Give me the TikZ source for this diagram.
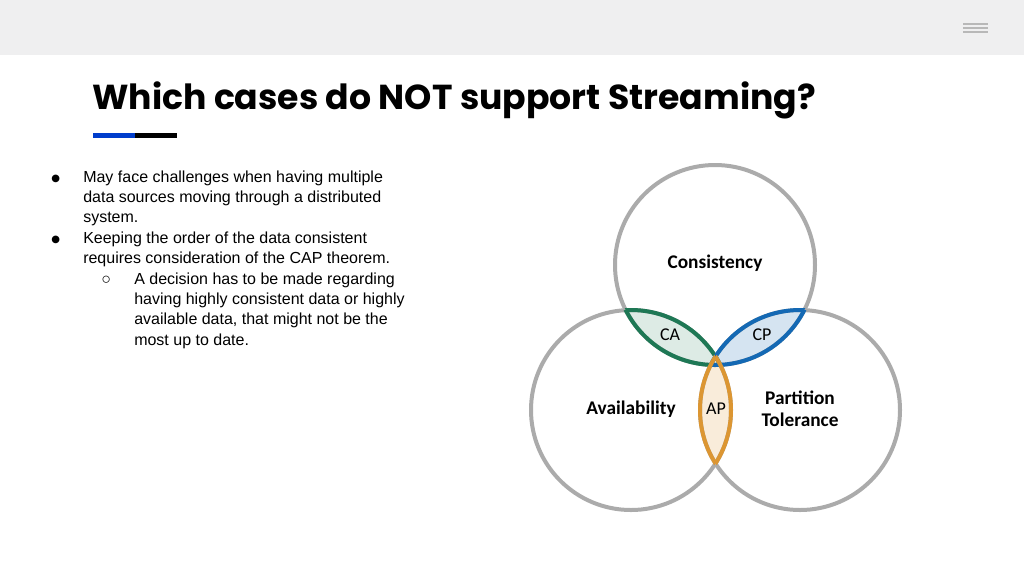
\documentclass[tikz,border=0pt]{standalone}
\usepackage{fontspec}
\setmainfont{Liberation Sans}
\newfontfamily\titlefont{Poppins}
\newfontfamily\calib{Carlito}
\newfontfamily\dv{DejaVu Sans}
\definecolor{gline}{RGB}{30,120,85}
\definecolor{bline}{RGB}{20,105,180}
\definecolor{oline}{RGB}{220,150,50}
\begin{document}
\begin{tikzpicture}[x=0.75pt,y=-0.75pt,
  circ/.style={draw=black!33,line width=3pt},
  vlab/.style={font=\calib\bfseries\fontsize{14.5}{16.5}\selectfont,align=center},
  llab/.style={font=\calib\fontsize{13.5}{15}\selectfont},
  body/.style={font=\fontsize{12}{15.4}\selectfont,anchor=base west,inner sep=0pt}]
\useasboundingbox (0,0) rectangle (1024,576);
\fill[white] (0,0) rectangle (1024,576);
\fill[black!5!blue!2!gray!12] (0,0) rectangle (1024,55);
\foreach \yy in {24,28,32}{\draw[black!28,line width=0.9pt] (963,\yy) -- (988,\yy);}
\node[anchor=base west,inner sep=0pt,font=\titlefont\bfseries\fontsize{26}{30}\selectfont] (title) at (92,109) {Which cases do NOT support Streaming?};
\fill[blue!70!cyan!80!black] (93,133) rectangle (135,137.5);
\fill[black] (135,133) rectangle (177,137.5);
% text
\node[body] (b1) at (51,181) {\dv\fontsize{7.5}{10}\selectfont ●};
\node[body] (t1a) at (83,182) {May face challenges when having multiple};
\node[body] (t1b) at (83,202) {data sources moving through a distributed};
\node[body] (t1c) at (83,222) {system.};
\node[body] (b2) at (51,242) {\dv\fontsize{7.5}{10}\selectfont ●};
\node[body] (t2a) at (83,243) {Keeping the order of the data consistent};
\node[body] (t2b) at (83,263) {requires consideration of the CAP theorem.};
\node[body] (b3) at (101,284) {○};
\node[body] (t3a) at (134,284) {A decision has to be made regarding};
\node[body] (t3b) at (134,304) {having highly consistent data or highly};
\node[body] (t3c) at (134,324) {available data, that might not be the};
\node[body] (t3d) at (134,345) {most up to date.};
% venn
\coordinate (C) at (715,265);
\coordinate (A) at (631,410);
\coordinate (P) at (800,410);
\begin{scope}\clip (C) circle (100); \fill[gline!15] (A) circle (100); \end{scope}
\begin{scope}\clip (C) circle (100); \fill[bline!18] (P) circle (100); \end{scope}
\begin{scope}\clip (A) circle (100); \fill[oline!18] (P) circle (100); \end{scope}
\draw[circ] (C) circle (100);
\draw[circ] (A) circle (100);
\draw[circ] (P) circle (100);
\begin{scope}\clip (C) circle (100); \draw[gline,line width=3pt] (A) circle (100); \end{scope}
\begin{scope}\clip (A) circle (100); \draw[gline,line width=3pt] (C) circle (100); \end{scope}
\begin{scope}\clip (C) circle (100); \draw[bline,line width=3pt] (P) circle (100); \end{scope}
\begin{scope}\clip (P) circle (100); \draw[bline,line width=3pt] (C) circle (100); \end{scope}
\begin{scope}\clip (A) circle (100); \draw[oline,line width=3pt] (P) circle (100); \end{scope}
\begin{scope}\clip (P) circle (100); \draw[oline,line width=3pt] (A) circle (100); \end{scope}
\node[vlab] (cons) at (715,263) {Consistency};
\node[vlab] (avail) at (631,409) {Availability};
\node[vlab] (part) at (800,409) {Partition\\Tolerance};
\node[llab] (ca) at (670,335) {CA};
\node[llab] (cp) at (762,335) {CP};
\node[llab] (ap) at (716,409) {AP};
\end{tikzpicture}
\end{document}
